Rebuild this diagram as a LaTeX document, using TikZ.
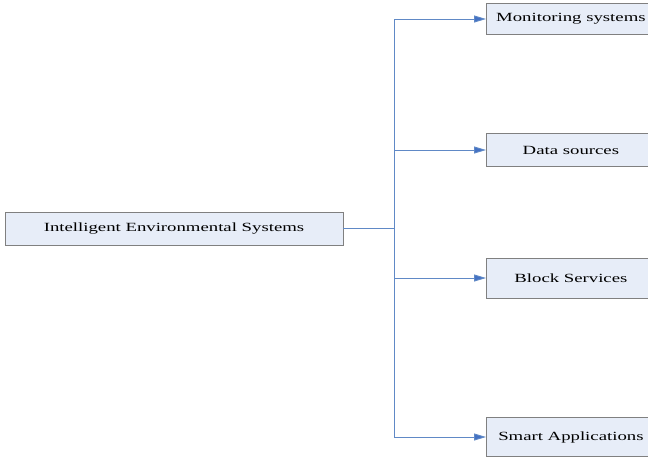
\documentclass[tikz,border=0pt]{standalone}
\usepackage{fontspec}
\setmainfont{Liberation Serif}
\usetikzlibrary{arrows.meta,positioning}

\definecolor{boxfill}{RGB}{231,237,248}
\definecolor{boxgray}{RGB}{128,128,128}
\definecolor{linkblue}{RGB}{96,137,198}
\definecolor{tipblue}{RGB}{68,114,196}
\newcommand{\widetext}[1]{\scalebox{1.5}[1]{#1}}

\begin{document}
\begin{tikzpicture}[x=1pt,y=-1pt,
		box/.style={draw=boxgray,fill=boxfill,line width=0.8pt,inner sep=0pt,font=\fontsize{12.5}{14}\selectfont},
		leaf/.style={box,anchor=west,minimum width=169pt},
		link/.style={draw=linkblue,line width=0.9pt},
		tolink/.style={link,-{Triangle[length=12pt,width=7pt,fill=tipblue]}}]
		\useasboundingbox (0,0) rectangle (648,459);
		\node[box,minimum width=338pt,minimum height=33pt] (ies) at (174,228.5) {\widetext{Intelligent Environmental Systems}};
		\node[leaf,minimum height=31pt] (mon) at (486,19) {\widetext{Monitoring systems}};
		\node[leaf,minimum height=33pt] (data) at (486,150) {\widetext{Data sources}};
		\node[leaf,minimum height=40pt] (block) at (486,278) {\widetext{Block Services}};
		\node[leaf,minimum height=39pt] (app) at (486,437) {\widetext{Smart Applications}};
		\coordinate (fork) at (394,228.5);
		% trunk and branches
		\draw[link] (ies.east) -- (fork);
		\draw[link] (fork |- mon.west) -- (fork |- app.west);
		\foreach \n in {mon,data,block,app}
		\draw[tolink] (fork |- \n.west) -- (\n.west);
		\end{tikzpicture}
\end{document}
